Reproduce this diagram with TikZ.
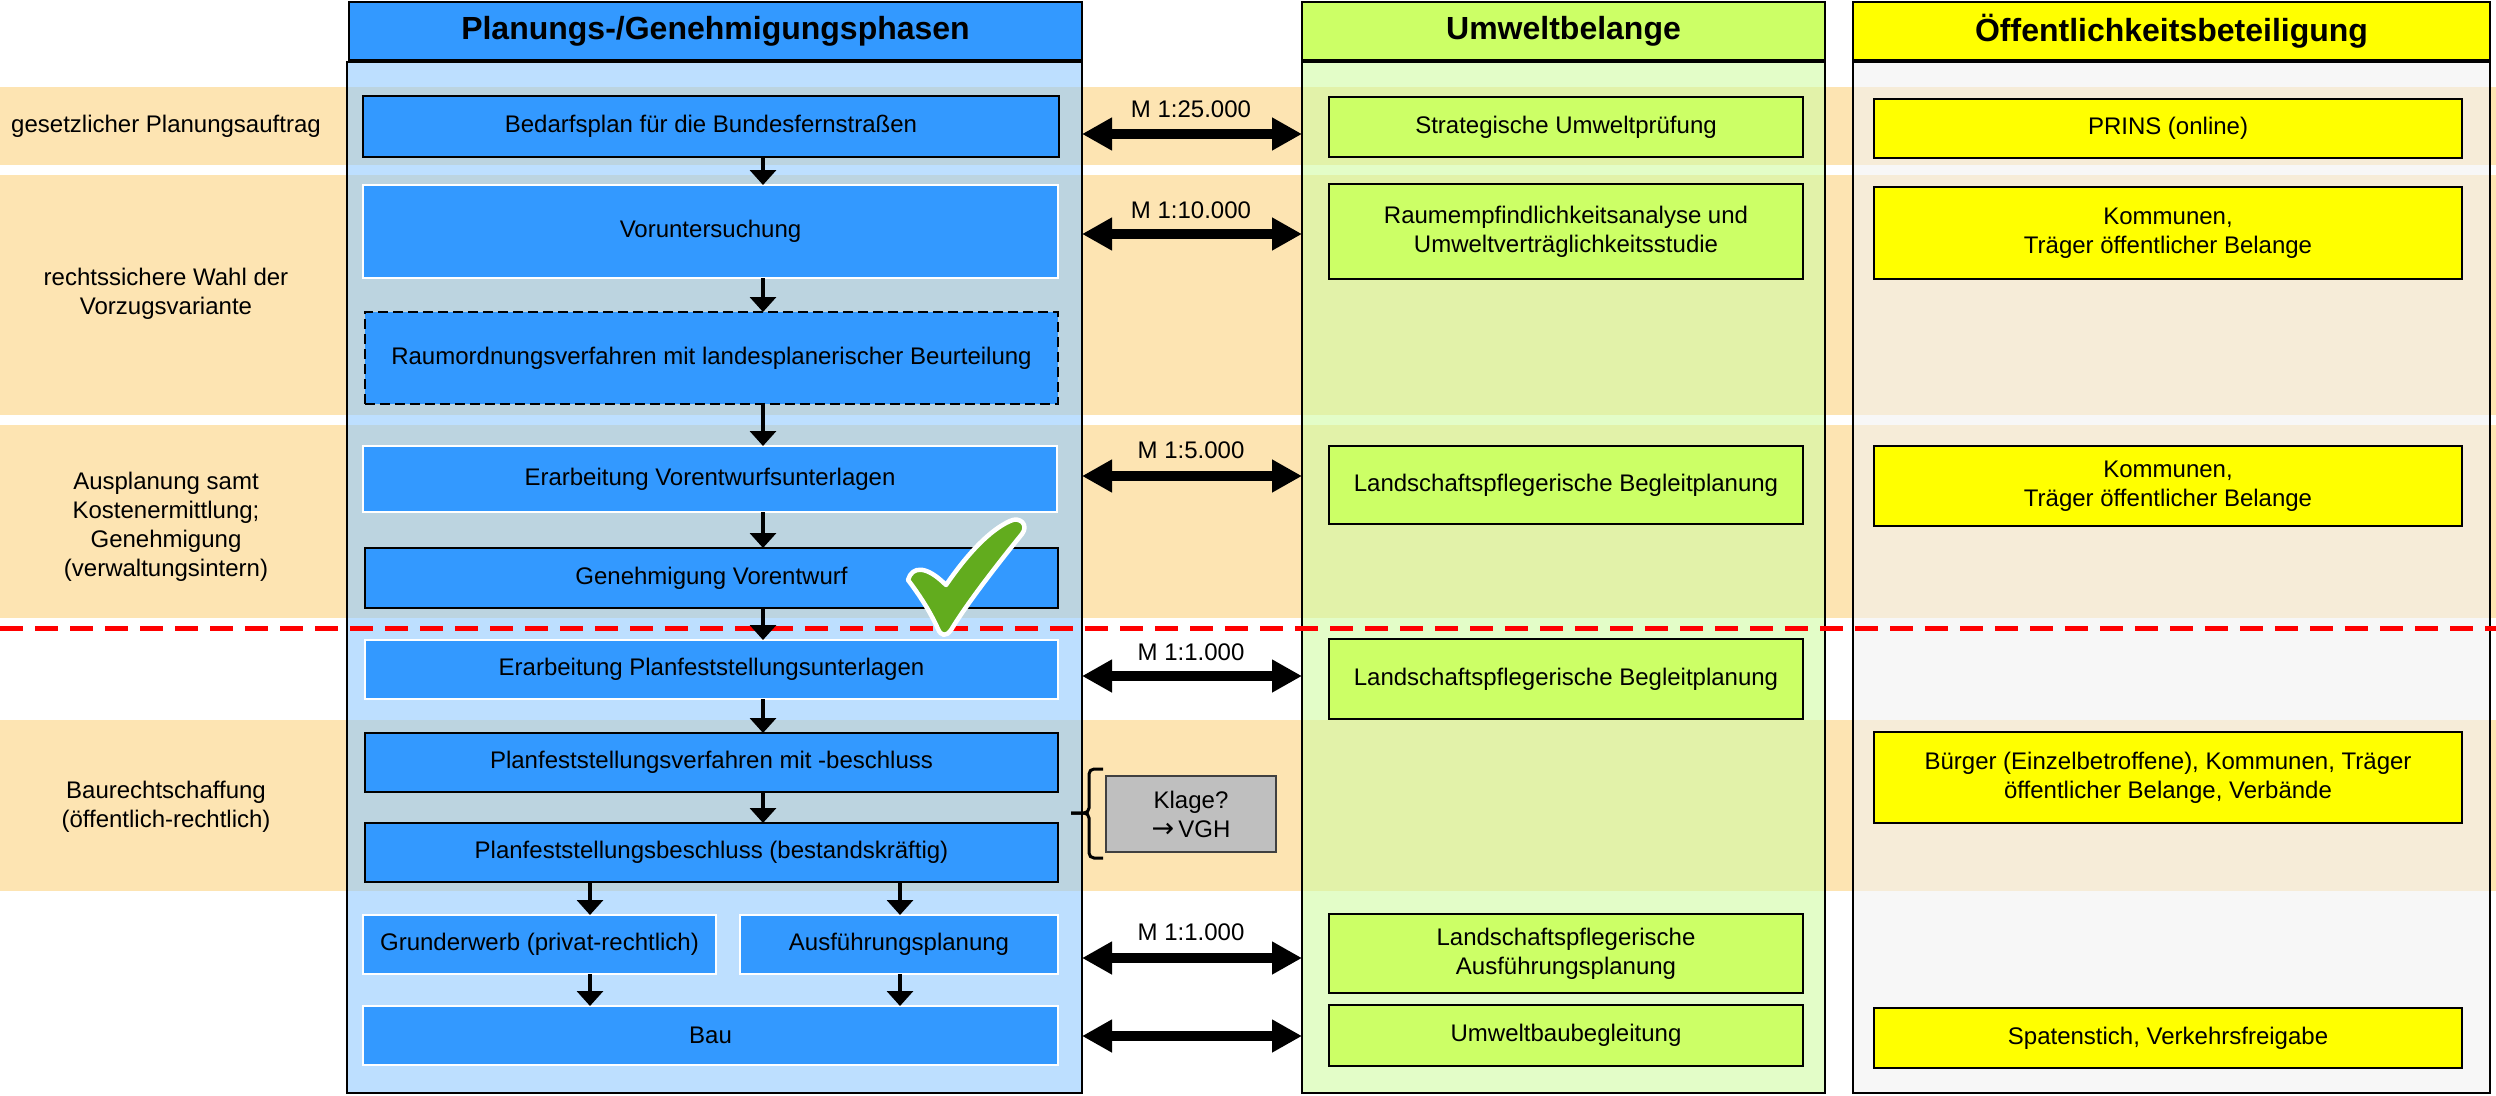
\documentclass[tikz,border=0pt]{standalone}
\usepackage{fontspec}
\setmainfont{Liberation Sans}
\newfontfamily\djv{DejaVu Sans}
\usetikzlibrary{arrows.meta,calc}
\definecolor{boxblue}{RGB}{51,153,255}
\definecolor{boxgreen}{RGB}{204,255,102}
\definecolor{boxyellow}{RGB}{255,255,0}
\definecolor{bandorange}{RGB}{253,228,178}
\definecolor{colblue}{RGB}{145,202,255}
\definecolor{colgreen}{RGB}{208,252,163}
\definecolor{colgrey}{RGB}{242,242,242}
\definecolor{klagegrey}{RGB}{191,191,191}
\definecolor{checkgreen}{RGB}{98,172,30}
\newcommand\myBody{\fontsize{24}{29}\selectfont}
\newcommand\myHead{\fontsize{32}{38}\selectfont\bfseries}
\begin{document}
\begin{tikzpicture}[x=1pt,y=-1pt,
  base/.style={rectangle, inner sep=0pt, outer sep=0pt, align=center, font=\myBody},
  bluebk/.style={base, fill=boxblue, draw=black, line width=2.5pt},
  bluewh/.style={base, fill=boxblue, draw=white, line width=2.5pt},
  bluedash/.style={base, fill=boxblue, draw=black, line width=2.5pt, dash pattern=on 10pt off 5pt},
  greenbox/.style={base, fill=boxgreen, draw=black, line width=2pt},
  yellowbox/.style={base, fill=boxyellow, draw=black, line width=2.5pt},
  headbox/.style={base, font=\myHead, draw=black, line width=2.5pt, minimum height=58pt},
  lbl/.style={base, fill=none},
  flowarr/.style={line width=3.5pt, -{Triangle[length=15pt,width=26pt]}},
  dblarr/.style={line width=10pt, {Triangle[length=30pt,width=31pt]}-{Triangle[length=30pt,width=31pt]}},
  colbg/.style={fill opacity=0.6, draw opacity=1, draw=black, line width=1.5pt}
]
\useasboundingbox (0,0) rectangle (2496,1095);
% bands
\foreach \ya/\yb in {87/165,175/415,425/618,720/891}
  \fill[bandorange] (0,\ya) rectangle (2496,\yb);
% column backgrounds
\path[colbg, fill=colblue] (347,62) rectangle (1082,1093);
\path[colbg, fill=colgreen] (1302,62) rectangle (1825,1093);
\path[colbg, fill=colgrey] (1853,62) rectangle (2490,1093);
% headers
\node[headbox, fill=boxblue, minimum width=733pt] (hB) at (715.5,31) {Planungs-/Genehmigungsphasen};
\node[headbox, fill=boxgreen, minimum width=523pt] (hG) at (1563.5,31) {Umweltbelange};
\node[headbox, fill=boxyellow, minimum width=637pt] (hY) at (2171.5,31) {Öffentlichkeitsbeteiligung};
% left labels
\node[lbl] (L1) at (166,126) {gesetzlicher Planungsauftrag};
\node[lbl] (L2) at (166,294) {rechtssichere Wahl der\\Vorzugsvariante};
\node[lbl] (L3) at (166,527) {Ausplanung samt\\Kostenermittlung;\\Genehmigung\\(verwaltungsintern)};
\node[lbl] (L4) at (166,807) {Baurechtschaffung\\(öffentlich-rechtlich)};
% blue boxes
\node[bluebk, minimum width=696pt, minimum height=61pt] (b1) at (711,126.5) {Bedarfsplan für die Bundesfernstraßen};
\node[bluewh, minimum width=695pt, minimum height=93pt] (b2) at (710.5,231.5) {Voruntersuchung};
\node[bluedash, minimum width=693pt, minimum height=92pt] (b3) at (711.5,358) {Raumordnungsverfahren mit landesplanerischer Beurteilung};
\node[bluewh, minimum width=694pt, minimum height=66pt] (b4) at (710,479) {Erarbeitung Vorentwurfsunterlagen};
\node[bluebk, minimum width=693pt, minimum height=60pt] (b5) at (711.5,578) {Genehmigung Vorentwurf};
\node[bluewh, minimum width=693pt, minimum height=59pt] (b6) at (711.5,669.5) {Erarbeitung Planfeststellungsunterlagen};
\node[bluebk, minimum width=693pt, minimum height=59pt] (b7) at (711.5,762.5) {Planfeststellungsverfahren mit -beschluss};
\node[bluebk, minimum width=693pt, minimum height=59pt] (b8) at (711.5,852.5) {Planfeststellungsbeschluss (bestandskräftig)};
\node[bluewh, minimum width=353pt, minimum height=59pt] (b9) at (539.5,944.5) {Grunderwerb (privat-rechtlich)};
\node[bluewh, minimum width=318pt, minimum height=59pt] (b10) at (899,944.5) {Ausführungsplanung};
\node[bluewh, minimum width=695pt, minimum height=59pt] (b11) at (710.5,1035.5) {Bau};
% green boxes
\node[greenbox, minimum width=474pt, minimum height=60pt] (g1) at (1566,127) {Strategische Umweltprüfung};
\node[greenbox, minimum width=474pt, minimum height=95pt] (g2) at (1566,231.5) {Raumempfindlichkeitsanalyse und\\Umweltverträglichkeitsstudie};
\node[greenbox, minimum width=474pt, minimum height=78pt] (g3) at (1566,485) {Landschaftspflegerische Begleitplanung};
\node[greenbox, minimum width=474pt, minimum height=80pt] (g4) at (1566,679) {Landschaftspflegerische Begleitplanung};
\node[greenbox, minimum width=474pt, minimum height=79pt] (g5) at (1566,953.5) {Landschaftspflegerische\\Ausführungsplanung};
\node[greenbox, minimum width=474pt, minimum height=61pt] (g6) at (1566,1035.5) {Umweltbaubegleitung};
% yellow boxes
\node[yellowbox, minimum width=588pt, minimum height=59pt] (y1) at (2168,128.5) {PRINS (online)};
\node[yellowbox, minimum width=588pt, minimum height=92pt] (y2) at (2168,233) {Kommunen,\\Träger öffentlicher Belange};
\node[yellowbox, minimum width=588pt, minimum height=80pt] (y3) at (2168,486) {Kommunen,\\Träger öffentlicher Belange};
\node[yellowbox, minimum width=588pt, minimum height=91pt] (y4) at (2168,777.5) {Bürger (Einzelbetroffene), Kommunen, Träger\\öffentlicher Belange, Verbände};
\node[yellowbox, minimum width=588pt, minimum height=60pt] (y5) at (2168,1038) {Spatenstich, Verkehrsfreigabe};
% Klage box
\node[base, fill=klagegrey, draw=black!75, line width=2pt, minimum width=170pt, minimum height=76pt] (kl) at (1191,814) {Klage?\\{\djv\fontsize{27}{29}\selectfont →}\,VGH};
\draw[line width=3pt, rounded corners=5pt] (1103,769) -- (1089,769) -- (1089,813) -- (1071,813);
\draw[line width=3pt, rounded corners=5pt] (1071,813) -- (1089,813) -- (1089,858) -- (1103,858);
% red dashed line
\draw[red, line width=5pt, dash pattern=on 23pt off 12pt] (0,628) -- (2496,628);
% flow arrows
\coordinate (ax) at (763,0);
\coordinate (axL) at (590,0);
\coordinate (axR) at (900,0);
\draw[flowarr] (b1.south -| ax) -- (b2.north -| ax);
\draw[flowarr] (b2.south -| ax) -- (b3.north -| ax);
\draw[flowarr] (b3.south -| ax) -- (b4.north -| ax);
\draw[flowarr] (b4.south -| ax) -- (b5.north -| ax);
\draw[flowarr] (b5.south -| ax) -- (b6.north -| ax);
\draw[flowarr] (b6.south -| ax) -- (b7.north -| ax);
\draw[flowarr] (b7.south -| ax) -- (b8.north -| ax);
\draw[flowarr] (b8.south -| axL) -- (b9.north -| axL);
\draw[flowarr] (b8.south -| axR) -- (b10.north -| axR);
\draw[flowarr] (b9.south -| axL) -- (b11.north -| axL);
\draw[flowarr] (b10.south -| axR) -- (b11.north -| axR);
% double arrows with scale labels
\foreach \i/\yy in {1/134,2/234,3/476,4/676,5/958,6/1036}{
  \coordinate (dl\i) at (1082,\yy);
  \coordinate (dr\i) at (1302,\yy);
  \draw[dblarr] (dl\i) -- (dr\i);
}
\node[lbl] (m1) at (1191,109) {M 1:25.000};
\node[lbl] (m2) at (1191,210) {M 1:10.000};
\node[lbl] (m3) at (1191,450) {M 1:5.000};
\node[lbl] (m4) at (1191,652) {M 1:1.000};
\node[lbl] (m5) at (1191,932) {M 1:1.000};
% check mark
\path[fill=checkgreen, draw=white, line width=4.5pt, line join=round]
 (908,580) .. controls (912,566) and (926,565) .. (946,585)
 .. controls (968,553) and (990,530) .. (1010,521)
 .. controls (1020,516) and (1029,525) .. (1022,534)
 .. controls (996,566) and (966,605) .. (951,630)
 .. controls (946,637) and (941,636) .. (938,629)
 .. controls (930,611) and (918,593) .. (908,580) -- cycle;
\end{tikzpicture}
\end{document}
